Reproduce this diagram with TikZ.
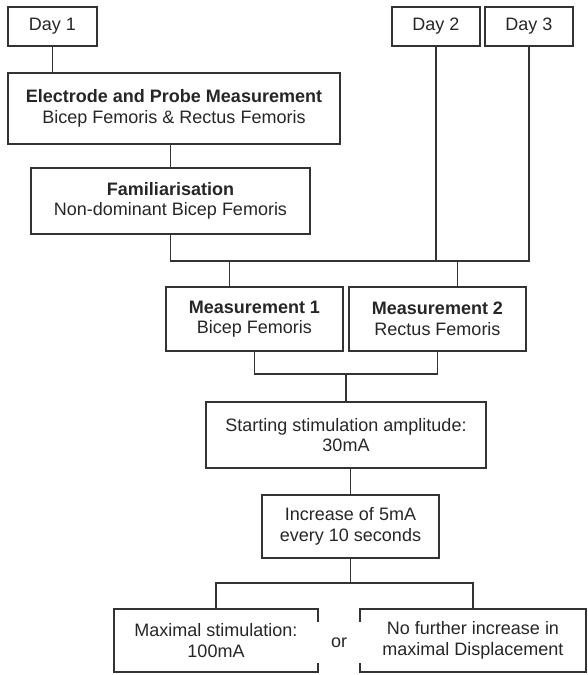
\documentclass[tikz,border=0pt]{standalone}
\usepackage{fontspec}
\setmainfont{Liberation Sans}
\begin{document}
\begin{tikzpicture}[x=1pt, y=-1pt, line width=1.3pt, draw=black!80,
	box/.style={draw=black!80, align=center, inner sep=0pt, font=\fontsize{18}{20.5}\selectfont, text=black!85},
	link/.style={draw=black!80, line width=1.3pt}]
\useasboundingbox (0,0) rectangle (588,675);

\node[box, minimum width=89, minimum height=39] (D1) at (52.5,26.5) {Day 1};
\node[box, minimum width=88, minimum height=39] (D2) at (436,26.5) {Day 2};
\node[box, minimum width=88, minimum height=39] (D3) at (529,26.5) {Day 3};
\node[box, minimum width=332, minimum height=71] (EP) at (174,108.5) {\textbf{Electrode and Probe Measurement}\\Bicep Femoris \& Rectus Femoris};
\node[box, minimum width=279, minimum height=66] (F) at (170.5,201) {\textbf{Familiarisation}\\Non-dominant Bicep Femoris};
\node[box, minimum width=177, minimum height=64] (M1) at (254.5,319) {\textbf{Measurement 1}\\Bicep Femoris};
\node[box, minimum width=177, minimum height=64] (M2) at (437.5,319) {\textbf{Measurement 2}\\Rectus Femoris};
\node[box, minimum width=280, minimum height=66] (S) at (346,435) {Starting stimulation amplitude:\\30mA};
\node[box, minimum width=177, minimum height=63] (I) at (350.5,526.5) {Increase of 5mA\\every 10 seconds};
\node[box, minimum width=204, minimum height=63] (MS) at (216,640.5) {Maximal stimulation:\\100mA};
\node[box, minimum width=226, minimum height=63] (NF) at (473,640.5) {No further increase in\\maximal Displacement};
\node[box, draw=none, fill=white, minimum width=46, minimum height=41] (or) at (339,642.5) {or};

% day 1 branch
\draw[link] (D1.south) -- (D1.south |- EP.north);
\draw[link] (F.north |- EP.south) -- (F.north);
\coordinate (J) at (0,261);
\draw[link] (F.south) -- (F.south |- J) -- (D3.south |- J) -- (D3.south);
\draw[link] (D2.south) -- (D2.south |- J);
\draw[link] ([xshift=-25pt]M1.north |- J) -- ([xshift=-25pt]M1.north);
\draw[link] ([xshift=20pt]M2.north |- J) -- ([xshift=20pt]M2.north);

% stimulation protocol
\coordinate (K) at (0,374);
\draw[link] (M1.south) -- (M1.south |- K) -- (M2.south |- K) -- (M2.south);
\draw[link] (S.north |- K) -- (S.north);
\draw[link] (I.north |- S.south) -- (I.north);
\coordinate (L) at (0,583);
\draw[link] (I.south) -- (I.south |- L);
\draw[link] (MS.north) -- (MS.north |- L) -- (NF.north |- L) -- (NF.north);
\end{tikzpicture}
\end{document}
